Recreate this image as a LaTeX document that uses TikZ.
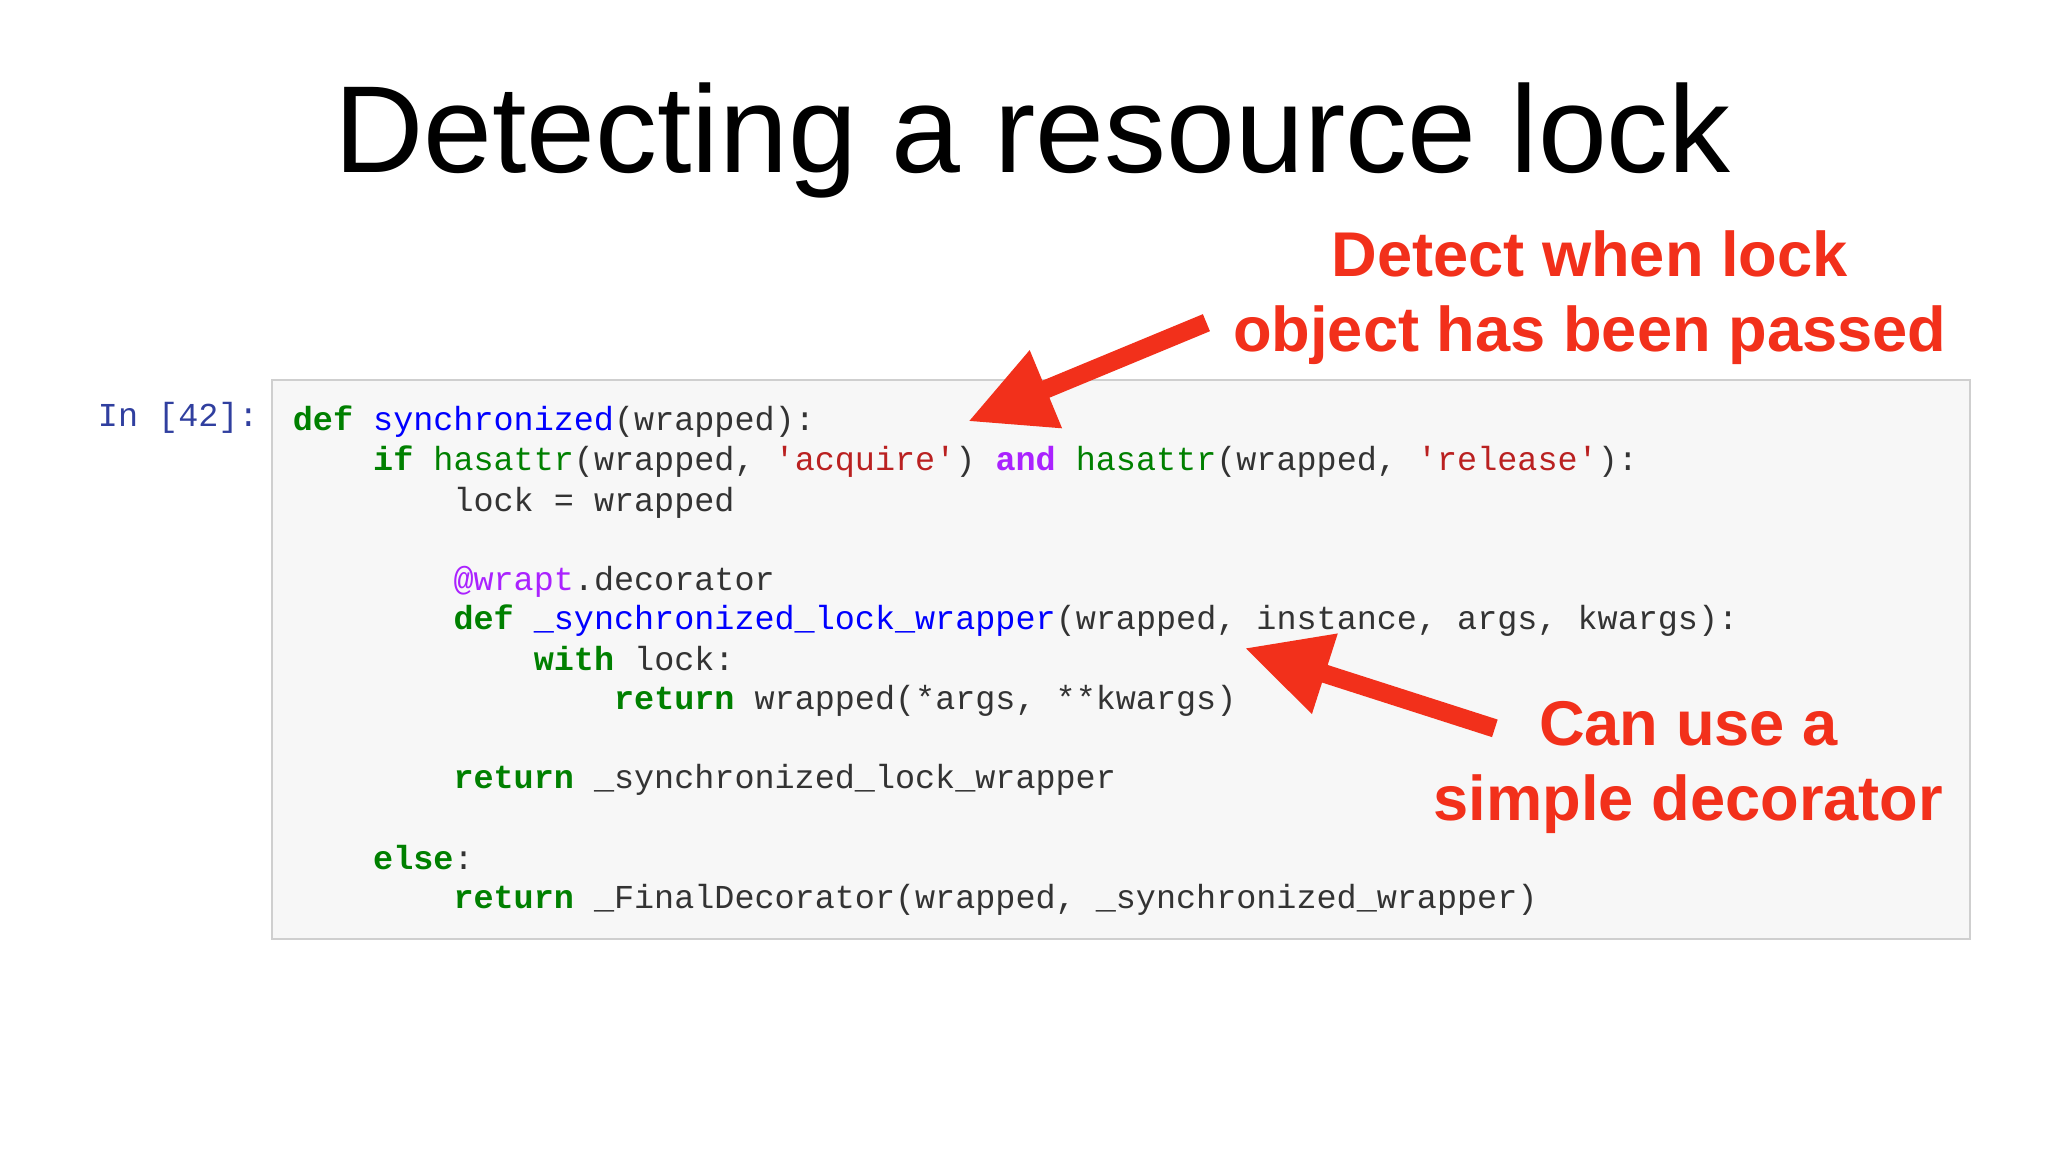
\documentclass[tikz,border=0pt]{standalone}
\usepackage{fontspec}
\setmainfont{Liberation Sans}
\setmonofont{Liberation Mono}
\usetikzlibrary{arrows.meta}
\definecolor{kwg}{HTML}{008000}
\definecolor{fnb}{HTML}{0000FF}
\definecolor{strr}{HTML}{BA2121}
\definecolor{purp}{HTML}{AA22FF}
\definecolor{prompt}{HTML}{303F9F}
\definecolor{annot}{HTML}{F2301B}
\definecolor{codetxt}{HTML}{333333}
\newcommand{\kw}[1]{\textcolor{kwg}{\bfseries #1}}
\newcommand{\fn}[1]{\textcolor{fnb}{#1}}
\newcommand{\st}[1]{\textcolor{strr}{#1}}
\newcommand{\pp}[1]{\textcolor{purp}{\bfseries #1}}
\newcommand{\bi}[1]{\textcolor{kwg}{#1}}
\begin{document}
\begin{tikzpicture}[x=0.5pt,y=-0.5pt,
  code/.style={anchor=base west,inner sep=0pt,font=\ttfamily\fontsize{12.7}{14}\selectfont,text=codetxt},
  annottext/.style={align=center,text=annot,font=\bfseries\fontsize{24}{28.5}\selectfont,inner sep=0pt},
  bigarrow/.style={draw=annot,line width=7pt,-{Triangle[length=32pt,width=30pt]},fill=annot}]
\useasboundingbox (0,0) rectangle (1555,875);
\fill[white] (0,0) rectangle (1555,875);
\node[anchor=base,inner sep=0pt,font=\fontsize{47}{50}\selectfont] (title) at (784,131) {Detecting a resource lock};
\node[draw=black!19,fill=black!3,line width=0.7pt,minimum width=644.5pt,minimum height=212pt,anchor=north west,inner sep=0pt] (box) at (206,288) {};
\node[code,text=prompt] (prompt) at (74,324) {In [42]:};
\node[code] (l1) at (222,327) {\kw{def} \fn{synchronized}(wrapped):};
\node[code] (l2) at (222,357) {\phantom{xxxx}\kw{if} \bi{hasattr}(wrapped, \st{'acquire'}) \pp{and} \bi{hasattr}(wrapped, \st{'release'}):};
\node[code] (l3) at (222,388) {\phantom{xxxxxxxx}lock = wrapped};
\node[code] (l5) at (222,448) {\phantom{xxxxxxxx}\textcolor{purp}{@wrapt}.decorator};
\node[code] (l6) at (222,478) {\phantom{xxxxxxxx}\kw{def} \fn{\_synchronized\_lock\_wrapper}(wrapped, instance, args, kwargs):};
\node[code] (l7) at (222,509) {\phantom{xxxxxxxxxxxx}\kw{with} lock:};
\node[code] (l8) at (222,539) {\phantom{xxxxxxxxxxxxxxxx}\kw{return} wrapped(*args, **kwargs)};
\node[code] (l10) at (222,599) {\phantom{xxxxxxxx}\kw{return} \_synchronized\_lock\_wrapper};
\node[code] (l12) at (222,660) {\phantom{xxxx}\kw{else}:};
\node[code] (l13) at (222,690) {\phantom{xxxxxxxx}\kw{return} \_FinalDecorator(wrapped, \_synchronized\_wrapper)};
\node[annottext] (a1) at (1207,226) {Detect when lock\\object has been passed};
\node[annottext] (a2) at (1282,583) {Can use a\\simple decorator};
\coordinate (t1) at (916,245);
\coordinate (h1) at (735,320);
\coordinate (t2) at (1135,553);
\coordinate (h2) at (945,492);
\draw[bigarrow] (t1) -- (h1);
\draw[bigarrow] (t2) -- (h2);
\end{tikzpicture}
\end{document}
